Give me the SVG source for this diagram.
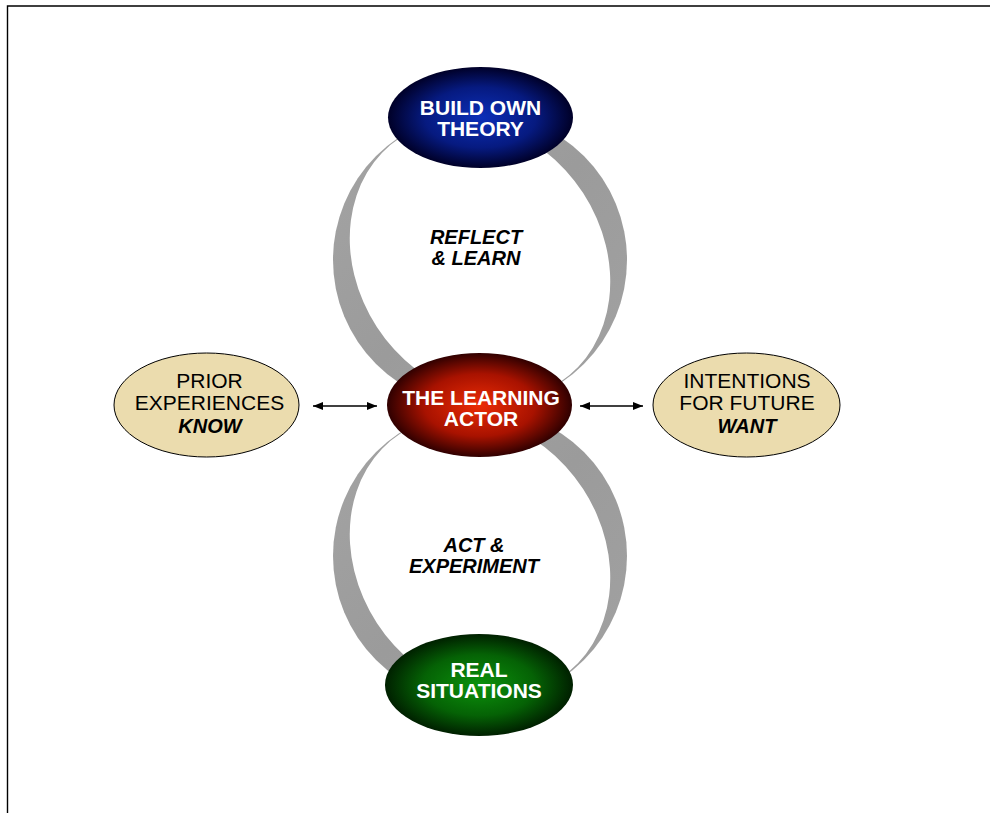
<svg xmlns="http://www.w3.org/2000/svg" width="990" height="813" viewBox="0 0 990 813">
<defs>
<radialGradient id="gBlue" cx="50%" cy="50%" r="50%">
<stop offset="0" stop-color="#0c2fb8"/>
<stop offset="0.6" stop-color="#061a80"/>
<stop offset="1" stop-color="#000028"/>
</radialGradient>
<radialGradient id="gRed" cx="50%" cy="50%" r="50%">
<stop offset="0" stop-color="#ec2c05"/>
<stop offset="0.6" stop-color="#a81200"/>
<stop offset="1" stop-color="#300000"/>
</radialGradient>
<radialGradient id="gGreen" cx="50%" cy="50%" r="50%">
<stop offset="0" stop-color="#0c920c"/>
<stop offset="0.6" stop-color="#056205"/>
<stop offset="1" stop-color="#002000"/>
</radialGradient>
<linearGradient id="gRing" x1="0" y1="0" x2="1" y2="1">
<stop offset="0" stop-color="#a4a4a4"/>
<stop offset="0.5" stop-color="#9b9b9b"/>
<stop offset="1" stop-color="#a2a2a2"/>
</linearGradient>
<marker id="ah" viewBox="0 0 10 8" refX="10" refY="4" markerWidth="10" markerHeight="8" markerUnits="userSpaceOnUse" orient="auto-start-reverse">
<path d="M0,0 L10,4 L0,8 Z" fill="#000"/>
</marker>
</defs>
<style>
.ring{fill:url(#gRing)}
.hole{fill:#fff}
.t{font-family:"Liberation Sans",Arial,sans-serif;text-anchor:middle}
.w{fill:#fff;font-weight:bold;font-size:21px}
.k{fill:#000;font-weight:bold;font-style:italic;font-size:20px}
.r{fill:#000;font-size:21px}
.bg{fill:#ebdcae;stroke:#000;stroke-width:1}
.conn{stroke:#000;stroke-width:1.3;fill:none;marker-start:url(#ah);marker-end:url(#ah)}
</style>
<rect width="990" height="813" fill="#fff"/>
<path d="M7.5,813 V6 H990" fill="none" stroke="#000" stroke-width="1.4"/>

<g id="ring-top">
<circle class="ring" cx="480" cy="260" r="147"/>
<ellipse class="hole" cx="480" cy="260" rx="146" ry="123" transform="rotate(57 480 260)"/>
</g>
<g id="ring-bottom">
<circle class="ring" cx="480" cy="556" r="147"/>
<ellipse class="hole" cx="480" cy="556" rx="146" ry="123" transform="rotate(57 480 556)"/>
</g>

<g id="connectors">
<line class="conn" x1="313" y1="406" x2="377" y2="406"/>
<line class="conn" x1="580" y1="406" x2="643" y2="406"/>
</g>

<g id="label-reflect">
<text class="t k" x="476" y="243.5">REFLECT</text>
<text class="t k" x="476" y="264.5">&amp; LEARN</text>
</g>
<g id="label-act">
<text class="t k" x="474" y="551.5">ACT &amp;</text>
<text class="t k" x="474" y="572.5">EXPERIMENT</text>
</g>

<g id="node-theory">
<ellipse cx="480.5" cy="117.5" rx="92.5" ry="50.5" fill="url(#gBlue)"/>
<text class="t w" x="480.5" y="115">BUILD OWN</text>
<text class="t w" x="480.5" y="136">THEORY</text>
</g>
<g id="node-actor">
<ellipse cx="479.5" cy="405" rx="92.5" ry="52" fill="url(#gRed)"/>
<text class="t w" x="481" y="405">THE LEARNING</text>
<text class="t w" x="481" y="426">ACTOR</text>
</g>
<g id="node-real">
<ellipse cx="479" cy="685" rx="94" ry="51" fill="url(#gGreen)"/>
<text class="t w" x="479" y="677">REAL</text>
<text class="t w" x="479" y="698">SITUATIONS</text>
</g>
<g id="node-prior">
<ellipse class="bg" cx="206.5" cy="405" rx="92.5" ry="52"/>
<text class="t r" x="209.5" y="388">PRIOR</text>
<text class="t r" x="209.5" y="410">EXPERIENCES</text>
<text class="t k" x="210" y="433">KNOW</text>
</g>
<g id="node-intentions">
<ellipse class="bg" cx="746.5" cy="405" rx="93.5" ry="52"/>
<text class="t r" x="747" y="388">INTENTIONS</text>
<text class="t r" x="747" y="410">FOR FUTURE</text>
<text class="t k" x="747" y="433">WANT</text>
</g>
</svg>
